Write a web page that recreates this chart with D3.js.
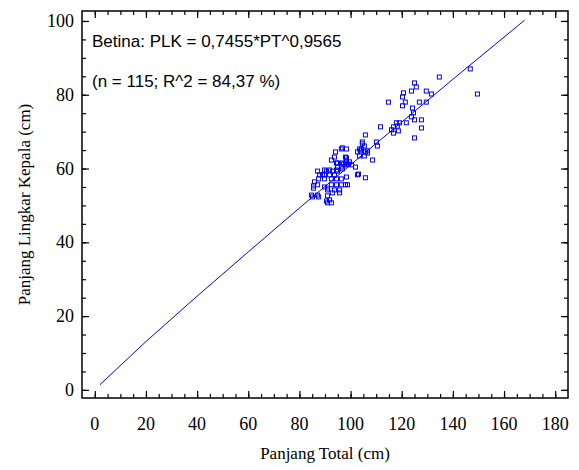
<!DOCTYPE html>
<html>
<head>
<meta charset="utf-8">
<script src="https://cdn.jsdelivr.net/npm/d3@7"></script>
<style>
  html, body { margin: 0; padding: 0; background: #fff; overflow: hidden; width: 100%; height: 100%; }
  #chart, svg { display: block; width: 100%; height: 100%; }
</style>
</head>
<body>
<div id="chart"></div>
<script>
// Observed points: Panjang Total (cm) vs Panjang Lingkar Kepala (cm)
const ptValues = [
  146.8, 149.6, 134.7, 125.0, 125.7, 123.8, 129.6, 120.7, 131.6, 120.3,
  114.8, 121.4, 120.3, 126.9, 129.6, 124.2, 124.6, 123.8, 125.0, 127.7,
  127.7, 125.0, 121.8, 117.9, 119.1, 118.3, 116.8, 116.0, 118.7, 116.8,
  111.7, 105.8, 104.6, 110.1, 110.5, 104.6, 105.4, 103.5, 104.3, 102.7,
  105.8, 98.4, 106.6, 96.4, 94.1, 93.7, 92.5, 94.9, 98.0, 98.4,
  98.0, 96.8, 98.4, 99.6, 100.4, 101.9, 103.5, 105.4, 103.9, 106.6,
  108.6, 102.7, 105.8, 98.8, 98.4, 103.1, 94.5, 96.8, 98.4, 94.9,
  96.4, 89.8, 91.8, 94.5, 96.8, 87.9, 89.8, 91.8, 93.7, 87.5,
  89.8, 92.5, 94.5, 96.4, 96.4, 98.0, 94.5, 92.5, 87.1, 85.5,
  91.0, 93.7, 95.7, 92.9, 84.7, 87.1, 91.0, 91.8, 91.0, 92.5,
  85.9, 87.1, 90.6, 92.9, 94.9, 89.0, 85.5, 89.8, 91.0, 95.7,
  85.1, 87.5, 90.6, 97.2, 99.2
];
const plkValues = [
  87.0, 80.2, 84.8, 83.2, 82.1, 81.0, 81.0, 80.5, 80.2, 79.4,
  78.0, 78.0, 77.0, 78.0, 78.0, 76.4, 75.1, 74.0, 73.2, 73.2,
  71.0, 68.3, 72.4, 72.4, 72.4, 71.5, 71.3, 70.5, 70.2, 69.6,
  71.3, 69.1, 67.2, 67.2, 66.1, 66.7, 66.1, 65.3, 65.3, 64.5,
  64.5, 65.3, 64.2, 65.3, 64.5, 63.1, 62.3, 61.5, 63.1, 62.3,
  61.5, 65.6, 62.9, 61.8, 61.0, 60.4, 63.4, 63.4, 64.8, 64.8,
  62.3, 58.3, 57.5, 55.6, 57.7, 58.5, 61.5, 61.5, 61.0, 60.4,
  60.4, 59.6, 59.6, 59.6, 59.9, 58.3, 58.3, 58.3, 58.3, 57.2,
  57.2, 57.2, 57.2, 57.2, 55.6, 55.6, 55.6, 55.6, 55.6, 54.7,
  54.7, 54.2, 54.2, 53.4, 52.8, 52.8, 52.6, 51.5, 50.7, 50.7,
  56.4, 59.3, 59.3, 59.3, 59.3, 58.3, 55.3, 55.0, 54.2, 53.4,
  52.3, 52.3, 51.2, 61.2, 61.2
];

// Fitted curve PLK = 0,7455*PT^0,9565, read at a few points
const fitPT = [2, 20, 40, 60, 80, 100, 120, 140, 168];
const fitPLK = [1.4, 13.1, 25.4, 37.4, 49.3, 61.0, 72.6, 84.2, 100.2];

const xTicks = [0, 20, 40, 60, 80, 100, 120, 140, 160, 180];
const yTicks = [0, 20, 40, 60, 80, 100];

const title1 = "Betina: PLK = 0,7455*PT^0,9565";
const title2 = "(n = 115; R^2 = 84,37 %)";
const xLabel = "Panjang Total (cm)";
const yLabel = "Panjang Lingkar Kepala (cm)";

const width = 579;
const height = 470;
const margin = { top: 11, right: 11, bottom: 72, left: 82 };
const innerWidth = width - margin.left - margin.right;
const innerHeight = height - margin.top - margin.bottom;

const svg = d3.select("#chart")
  .append("svg")
  .attr("viewBox", `0 0 ${width} ${height}`);

const g = svg.append("g")
  .attr("transform", `translate(${margin.left},${margin.top})`);

const xScale = d3.scaleLinear().domain([-5, 185]).range([0, innerWidth]);
const yScale = d3.scaleLinear().domain([-2.2, 102.7]).range([innerHeight, 0]);

const points = ptValues.map((d, i) => ({ x: d, y: plkValues[i] }));
const fit = fitPT.map((d, i) => ({ x: d, y: fitPLK[i] }));

const serif = "'Liberation Serif', 'Times New Roman', serif";
const sans = "'Liberation Sans', Arial, sans-serif";

// Minor and major ticks pointing inward on all four sides
const xMinor = d3.range(0, 181, 5);
const yMinor = d3.range(0, 101, 5);

function tickAxis(axis, scale, ticks, size) {
  return axis(scale).tickValues(ticks).tickSize(size).tickFormat("");
}

const axes = [
  [d3.axisTop, xScale, `translate(0,${innerHeight})`, xMinor, 4],
  [d3.axisTop, xScale, `translate(0,${innerHeight})`, xTicks, 7],
  [d3.axisBottom, xScale, "translate(0,0)", xMinor, 4],
  [d3.axisBottom, xScale, "translate(0,0)", xTicks, 7],
  [d3.axisRight, yScale, "translate(0,0)", yMinor, 4],
  [d3.axisRight, yScale, "translate(0,0)", yTicks, 7],
  [d3.axisLeft, yScale, `translate(${innerWidth},0)`, yMinor, 4],
  [d3.axisLeft, yScale, `translate(${innerWidth},0)`, yTicks, 7],
];
axes.forEach(([axis, scale, tr, ticks, size]) => {
  const a = g.append("g")
    .attr("transform", tr)
    .call(tickAxis(axis, scale, ticks, size));
  a.select(".domain").remove();
  a.selectAll("text").remove();
  a.selectAll("line").attr("stroke", "#000").attr("stroke-width", 1.2);
});

// Frame
g.append("rect")
  .attr("width", innerWidth)
  .attr("height", innerHeight)
  .attr("fill", "none")
  .attr("stroke", "#000")
  .attr("stroke-width", 1.5);

// Tick labels
g.append("g")
  .selectAll("text")
  .data(xTicks)
  .join("text")
  .attr("x", d => xScale(d))
  .attr("y", innerHeight + 32)
  .attr("text-anchor", "middle")
  .style("font-family", serif)
  .style("font-size", "18px")
  .text(d => d);

g.append("g")
  .selectAll("text")
  .data(yTicks)
  .join("text")
  .attr("x", -8)
  .attr("y", d => yScale(d) + 6)
  .attr("text-anchor", "end")
  .style("font-family", serif)
  .style("font-size", "18px")
  .text(d => d);

// Fitted line
const line = d3.line()
  .x(d => xScale(d.x))
  .y(d => yScale(d.y));

g.append("path")
  .datum(fit)
  .attr("fill", "none")
  .attr("stroke", "#0000ff")
  .attr("stroke-width", 1)
  .attr("d", line);

// Scatter squares
g.append("g")
  .selectAll("rect")
  .data(points)
  .join("rect")
  .attr("x", d => xScale(d.x) - 2)
  .attr("y", d => yScale(d.y) - 2)
  .attr("width", 4)
  .attr("height", 4)
  .attr("fill", "none")
  .attr("stroke", "#0000ff")
  .attr("stroke-width", 1);

// Equation text
g.append("text")
  .attr("x", 10)
  .attr("y", 36)
  .style("font-family", sans)
  .style("font-size", "17px")
  .text(title1);

g.append("text")
  .attr("x", 10)
  .attr("y", 76)
  .style("font-family", sans)
  .style("font-size", "17px")
  .text(title2);

// Axis titles
svg.append("text")
  .attr("x", margin.left + innerWidth / 2)
  .attr("y", 459)
  .attr("text-anchor", "middle")
  .style("font-family", serif)
  .style("font-size", "17px")
  .text(xLabel);

svg.append("text")
  .attr("transform", `translate(30,${margin.top + innerHeight / 2}) rotate(-90)`)
  .attr("text-anchor", "middle")
  .style("font-family", serif)
  .style("font-size", "17px")
  .text(yLabel);
</script>
</body>
</html>
